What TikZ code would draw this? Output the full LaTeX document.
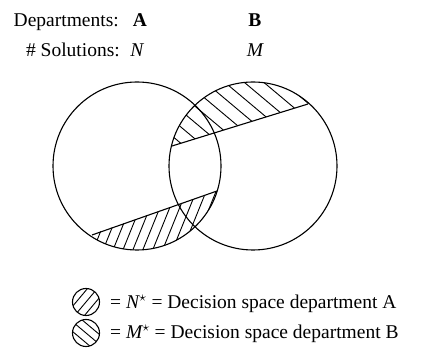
\documentclass[tikz,border=0pt]{standalone}
\usepackage{fontspec}
\setmainfont{Liberation Serif}
\begin{document}
\begin{tikzpicture}[x=1pt,y=-1pt,
  every node/.style={inner sep=0pt, font=\fontsize{19.5}{23}\selectfont},
  ring/.style={line width=1.1pt},
  hatch/.style={line width=0.9pt},
  chord/.style={line width=1.1pt}]
\useasboundingbox (0,0) rectangle (434,363);
% points
\coordinate (CA) at (137,166);
\coordinate (CB) at (253,166);
\coordinate (P1) at (172,146);
\coordinate (P2) at (308,104);
\coordinate (Q1) at (92,235);
\coordinate (Q2) at (217,191);
% upper hatch (department B)
\begin{scope}
  \clip (CB) circle[radius=84pt];
  \clip (150,152.8) -- (350,90.8) -- (350,50) -- (150,50) -- cycle;
  \begin{scope}[shift={(CB)}, rotate=-40]
    \foreach \k in {-12,...,12} \draw[hatch] (-150,\k*12.5+4) -- (150,\k*12.5+4);
  \end{scope}
\end{scope}
% lower hatch (department A)
\begin{scope}
  \clip (CA) circle[radius=84pt];
  \clip (40,252.4) -- (240,183) -- (240,280) -- (40,280) -- cycle;
  \begin{scope}[shift={(CA)}, rotate=68]
    \foreach \k in {-16,...,16} \draw[hatch] (-150,\k*9.2) -- (150,\k*9.2);
  \end{scope}
\end{scope}
% circles and chords
\draw[ring] (CA) circle[radius=84pt];
\draw[ring] (CB) circle[radius=84pt];
\draw[chord] (P1) -- (P2);
\draw[chord] (Q1) -- (Q2);
% header
\node[anchor=base east] (dep) at (119,27) {Departments:};
\node[anchor=base] (depA) at (140,27) {\bfseries A};
\node[anchor=base] (depB) at (255,27) {\bfseries B};
\node[anchor=base east] (sol) at (120,57) {\# Solutions:};
\node[anchor=base] (solN) at (137,57) {\itshape N};
\node[anchor=base] (solM) at (255,57) {\itshape M};
% legend icons
\coordinate (I1) at (86,302);
\coordinate (I2) at (86,333);
\begin{scope}
  \clip (I1) circle[radius=13.5pt];
  \begin{scope}[shift={(I1)}, rotate=50]
    \foreach \k in {-1,0,1} \draw[hatch] (-20,\k*7.5) -- (20,\k*7.5);
  \end{scope}
\end{scope}
\draw[ring] (I1) circle[radius=13.5pt];
\begin{scope}
  \clip (I2) circle[radius=13.5pt];
  \begin{scope}[shift={(I2)}, rotate=-40]
    \foreach \k in {-1,0,1} \draw[hatch] (-20,\k*7.5) -- (20,\k*7.5);
  \end{scope}
\end{scope}
\draw[ring] (I2) circle[radius=13.5pt];
\node[anchor=base west] (leg1) at (110,309) {= {\itshape N}$^{\star}$ = Decision space department A};
\node[anchor=base west] (leg2) at (110,339) {= {\itshape M}$^{\star}$ = Decision space department B};
\end{tikzpicture}
\end{document}
